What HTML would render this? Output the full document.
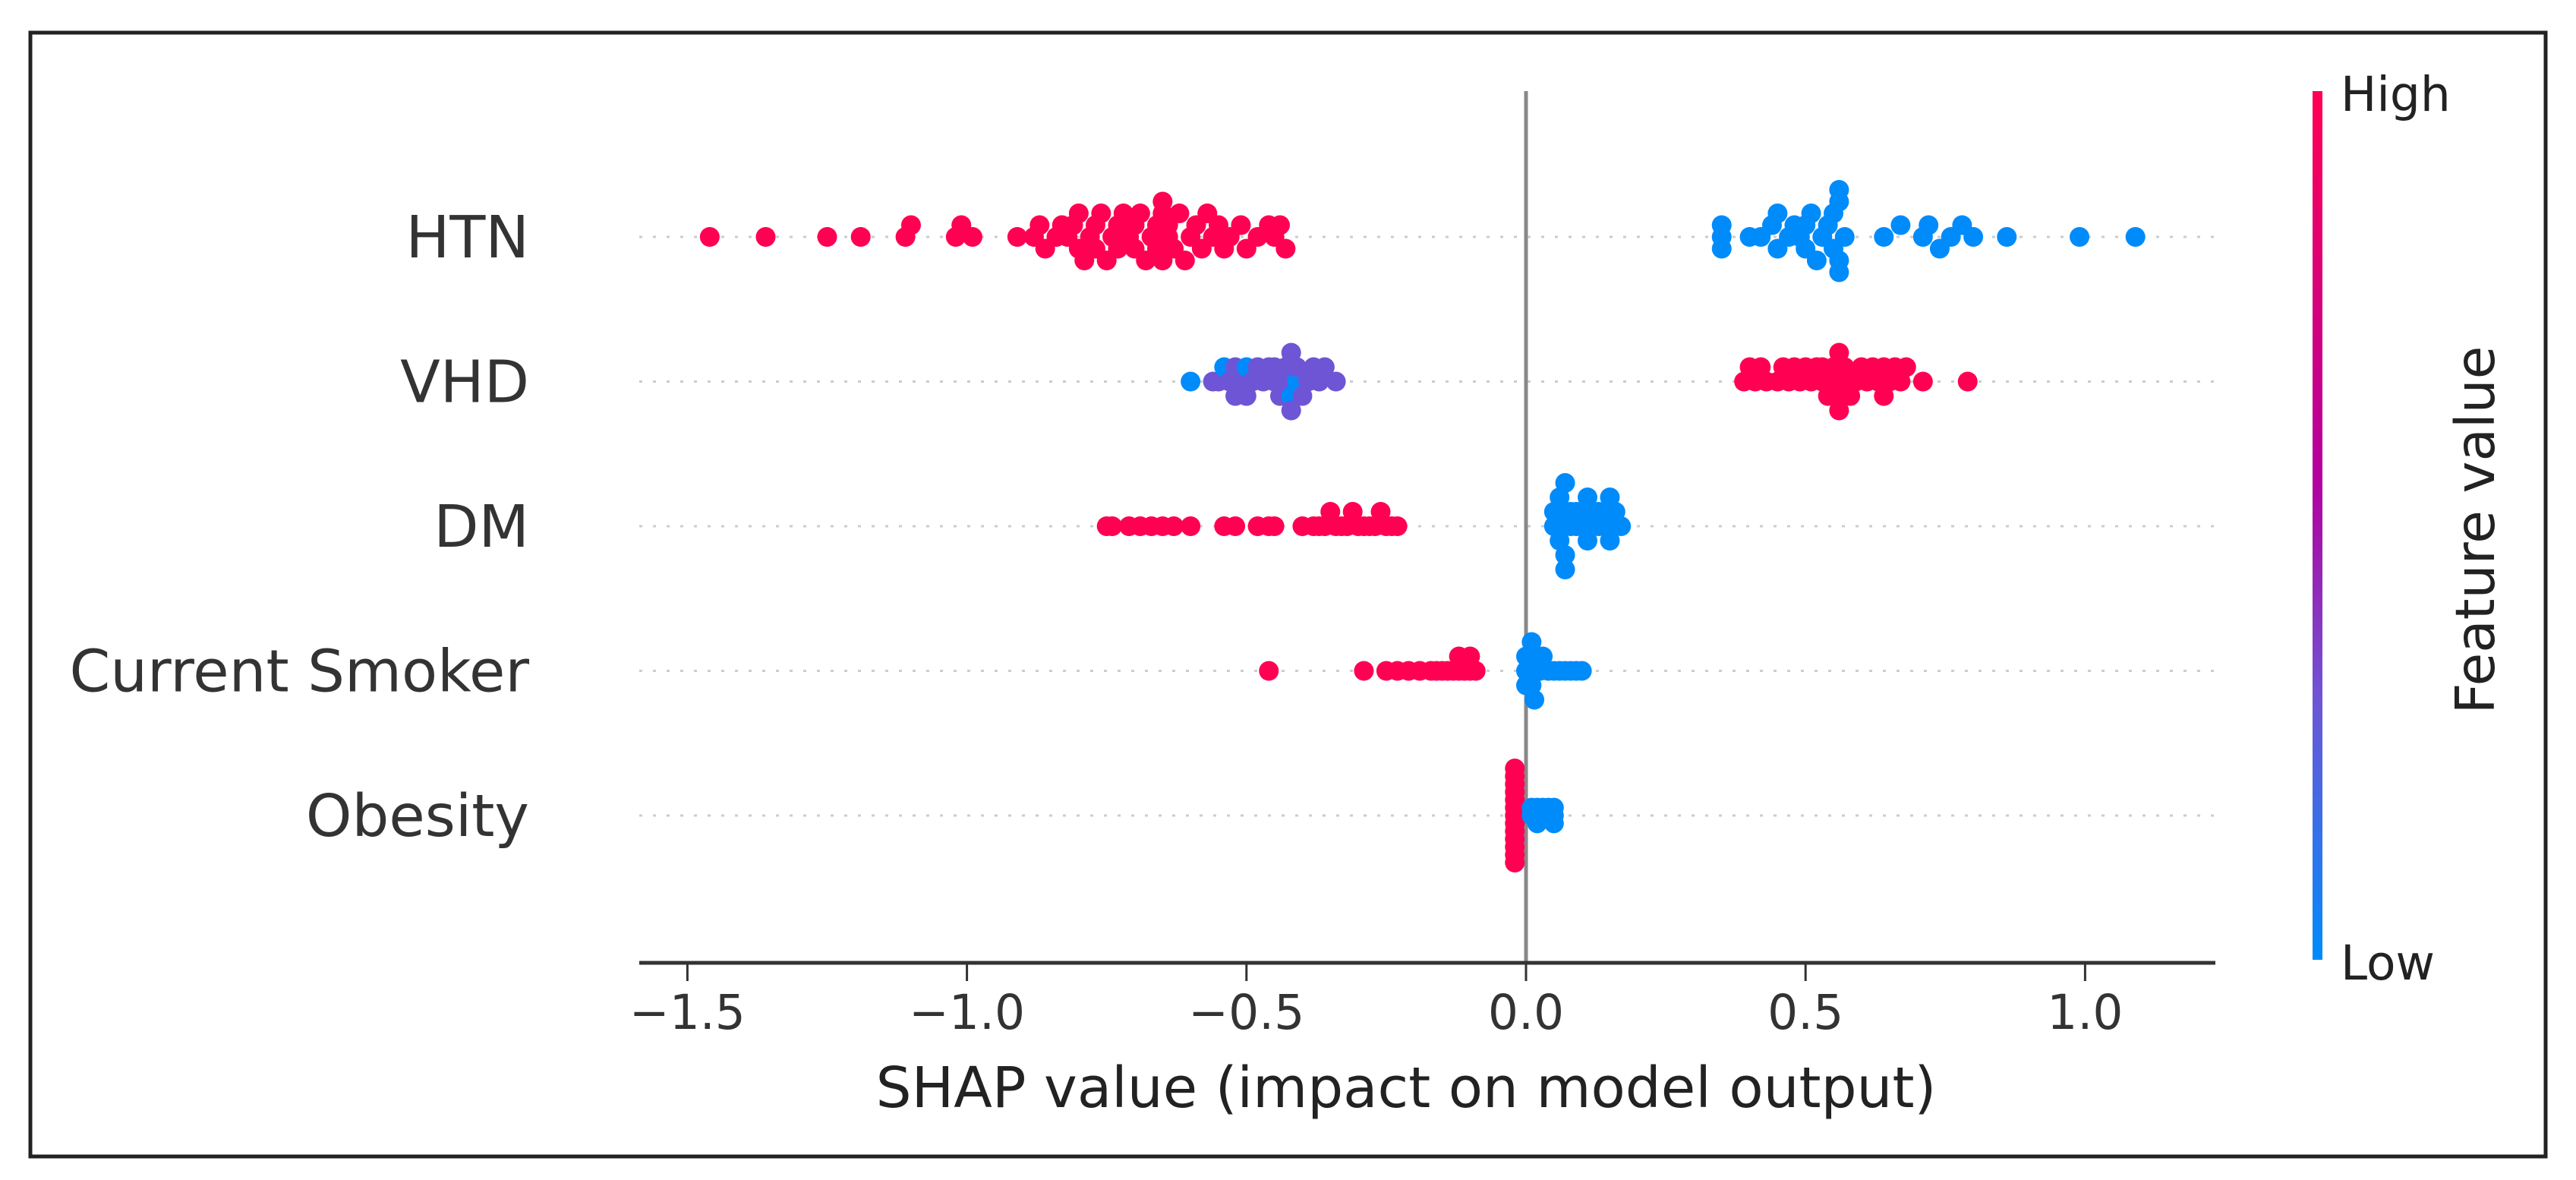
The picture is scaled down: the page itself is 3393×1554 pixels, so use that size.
<!DOCTYPE html>
<html><head><meta charset="utf-8"><style>
html,body{margin:0;padding:0;background:#fff;}
svg{display:block;font-family:"DejaVu Sans","Liberation Sans",sans-serif;}
</style></head><body>
<svg id="chart" width="3393" height="1554" viewBox="0 0 3393 1554" xmlns="http://www.w3.org/2000/svg">
<defs><linearGradient id="cbar" x1="0" y1="1" x2="0" y2="0">
<stop offset="0" stop-color="#008bfb"/><stop offset="0.3" stop-color="#6e55d5"/><stop offset="0.55" stop-color="#b3009e"/><stop offset="1" stop-color="#ff0052"/>
</linearGradient></defs>
<rect x="40" y="43" width="3313" height="1480" fill="#fff" stroke="#222" stroke-width="5"/>
<g id="grid"></g>
<line x1="2010" y1="120" x2="2010" y2="1268" stroke="#888" stroke-width="5"/>
<g id="dots"></g>
<line x1="842" y1="1268" x2="2918" y2="1268" stroke="#333" stroke-width="5"/>
<g id="xticks"></g>
<g id="ylabels"></g>
<text x="1852" y="1458" font-size="74" fill="#222" text-anchor="middle">SHAP value (impact on model output)</text>
<rect x="3046" y="120" width="13" height="1144" fill="url(#cbar)"/>
<text x="3083" y="146" font-size="63" fill="#222">High</text>
<text x="3083" y="1290" font-size="63" fill="#222">Low</text>
<text x="0" y="0" font-size="71" fill="#222" text-anchor="middle" transform="translate(3285,698) rotate(-90)">Feature value</text>
</svg>
<script>
const features = ["HTN","VHD","DM","Current Smoker","Obesity"];
const tickValues = [-1.5,-1.0,-0.5,0.0,0.5,1.0];
const tickLabels = ["\u22121.5","\u22121.0","\u22120.5","0.0","0.5","1.0"];
const htnHighShap = [-1.46,-1.36,-1.25,-1.19,-1.11,-1.10,-1.02,-1.01,-0.99,-0.91,-0.88,-0.87,-0.86,-0.84,-0.83,-0.82,-0.81,-0.80,-0.80,-0.79,-0.78,-0.77,-0.77,-0.76,-0.75,-0.74,-0.73,-0.73,-0.72,-0.71,-0.70,-0.70,-0.69,-0.68,-0.67,-0.66,-0.66,-0.65,-0.65,-0.65,-0.64,-0.64,-0.63,-0.62,-0.61,-0.60,-0.59,-0.58,-0.57,-0.56,-0.55,-0.54,-0.53,-0.51,-0.50,-0.48,-0.46,-0.45,-0.44,-0.43];
const htnLowShap = [0.35,0.35,0.35,0.40,0.42,0.44,0.45,0.45,0.47,0.48,0.49,0.50,0.50,0.51,0.52,0.53,0.54,0.55,0.55,0.56,0.56,0.56,0.56,0.57,0.64,0.67,0.71,0.72,0.74,0.76,0.78,0.80,0.86,0.99,1.09];
const vhdLowShap = [-0.60,-0.56,-0.55,-0.54,-0.53,-0.52,-0.52,-0.51,-0.50,-0.50,-0.49,-0.48,-0.47,-0.46,-0.45,-0.45,-0.44,-0.43,-0.43,-0.42,-0.42,-0.42,-0.41,-0.41,-0.40,-0.39,-0.38,-0.37,-0.36,-0.34];
const vhdLowFeat = [0,0.3,0.3,0,0.3,0.3,0.3,0.3,0,0.3,0.3,0.3,0.3,0.3,0.3,0.3,0.3,0.3,0.3,0,0.3,0.3,0,0.3,0.3,0.3,0.3,0.3,0.3,0.3];
const vhdHighShap = [0.39,0.40,0.41,0.42,0.43,0.45,0.46,0.47,0.48,0.49,0.50,0.51,0.52,0.53,0.53,0.54,0.55,0.55,0.56,0.56,0.56,0.57,0.57,0.58,0.59,0.60,0.61,0.62,0.63,0.64,0.64,0.65,0.66,0.67,0.68,0.71,0.79];
const dmHighShap = [-0.75,-0.74,-0.71,-0.69,-0.67,-0.65,-0.63,-0.60,-0.54,-0.52,-0.48,-0.46,-0.45,-0.40,-0.38,-0.37,-0.36,-0.35,-0.34,-0.33,-0.32,-0.31,-0.30,-0.29,-0.28,-0.27,-0.26,-0.25,-0.24,-0.23];
const dmLowShap = [0.05,0.05,0.06,0.06,0.06,0.06,0.07,0.07,0.07,0.08,0.08,0.09,0.09,0.10,0.10,0.11,0.11,0.12,0.12,0.13,0.13,0.14,0.14,0.15,0.15,0.16,0.16,0.17];
const smokerHighShap = [-0.46,-0.29,-0.25,-0.23,-0.21,-0.19,-0.17,-0.16,-0.15,-0.14,-0.13,-0.12,-0.12,-0.11,-0.10,-0.10,-0.09];
const smokerLowShap = [0.00,0.00,0.00,0.005,0.01,0.01,0.01,0.01,0.015,0.02,0.02,0.025,0.03,0.04,0.05,0.06,0.07,0.08,0.09,0.10];
const obesityHighShap = [-0.02,-0.02,-0.02,-0.02,-0.02,-0.02,-0.02,-0.02,-0.02,-0.02,-0.02,-0.02,-0.02];
const obesityLowShap = [0.01,0.01,0.02,0.02,0.02,0.03,0.03,0.04,0.04,0.05,0.05,0.05];

const NS="http://www.w3.org/2000/svg";
const X0=2010, XU=736.4, ROW0=312, ROWSTEP=190.5, GX1=842, GX2=2918;
const xScale=v=>X0+XU*v;
const yRow=i=>ROW0+ROWSTEP*i;
function colorFor(t){
  const stops=[[0,[0,139,251]],[0.3,[110,85,213]],[0.55,[179,0,158]],[1,[255,0,82]]];
  for(let k=1;k<stops.length;k++){ if(t<=stops[k][0]){const a=stops[k-1],b=stops[k];const f=(t-a[0])/(b[0]-a[0]);
    return "rgb("+a[1].map((c,j)=>Math.round(c+(b[1][j]-c)*f)).join(",")+")";}}
  return "rgb(255,0,82)";
}
function mk(tag,attrs,parent){const e=document.createElementNS(NS,tag);for(const k in attrs)e.setAttribute(k,attrs[k]);parent.appendChild(e);return e;}

const rows=[
  [htnHighShap.map(v=>[v,1]),htnLowShap.map(v=>[v,0])],
  [vhdLowShap.map((v,i)=>[v,vhdLowFeat[i]]),vhdHighShap.map(v=>[v,1])],
  [dmHighShap.map(v=>[v,1]),dmLowShap.map(v=>[v,0])],
  [smokerHighShap.map(v=>[v,1]),smokerLowShap.map(v=>[v,0])],
  [obesityHighShap.map(v=>[v,1]),obesityLowShap.map(v=>[v,0])]
];
const grid=document.getElementById('grid'), dots=document.getElementById('dots'), yl=document.getElementById('ylabels'), xt=document.getElementById('xticks');
features.forEach((f,i)=>{
  const g=mk('line',{x1:GX1,y1:yRow(i),x2:GX2,y2:yRow(i),stroke:'#ccc','stroke-width':3,'stroke-dasharray':'4 14'},grid);
  
  
  const t=mk('text',{x:697,y:yRow(i)+27,'font-size':77,fill:'#333','text-anchor':'end'},yl);
  t.textContent=f;
  
  
  const pts=rows[i][0].concat(rows[i][1]);
  const vals=pts.map(p=>p[0]);
  const mn=Math.min(...vals), mx=Math.max(...vals);
  const nb=70;
  const q=pts.map(p=>Math.round(nb*(p[0]-mn)/(mx-mn+1e-8)));
  const order=pts.map((p,k)=>k).sort((a,b)=>q[a]-q[b]||a-b);
  const ys=new Array(pts.length).fill(0);
  let layer=0,last=-1;
  order.forEach(k=>{ if(q[k]!==last) layer=0; ys[k]=Math.ceil(layer/2)*((layer%2)*2-1); layer++; last=q[k]; });
  const maxL=Math.max(...ys.map(Math.abs));
  const step=Math.min(19, 62/Math.max(1,maxL));
  pts.forEach((p,k)=>{
    const c=mk('circle',{cx:xScale(p[0]),cy:yRow(i)-ys[k]*step,r:13,fill:colorFor(p[1])},dots);
    
    
  });
});
tickValues.forEach((v,i)=>{
  const l=mk('line',{x1:xScale(v),y1:1268,x2:xScale(v),y2:1292,stroke:'#333','stroke-width':3},xt);
  
  
  const t=mk('text',{x:xScale(v),y:1355,'font-size':63,fill:'#333','text-anchor':'middle'},xt);
  t.textContent=tickLabels[i];
  
  
});
</script>
</body></html>
